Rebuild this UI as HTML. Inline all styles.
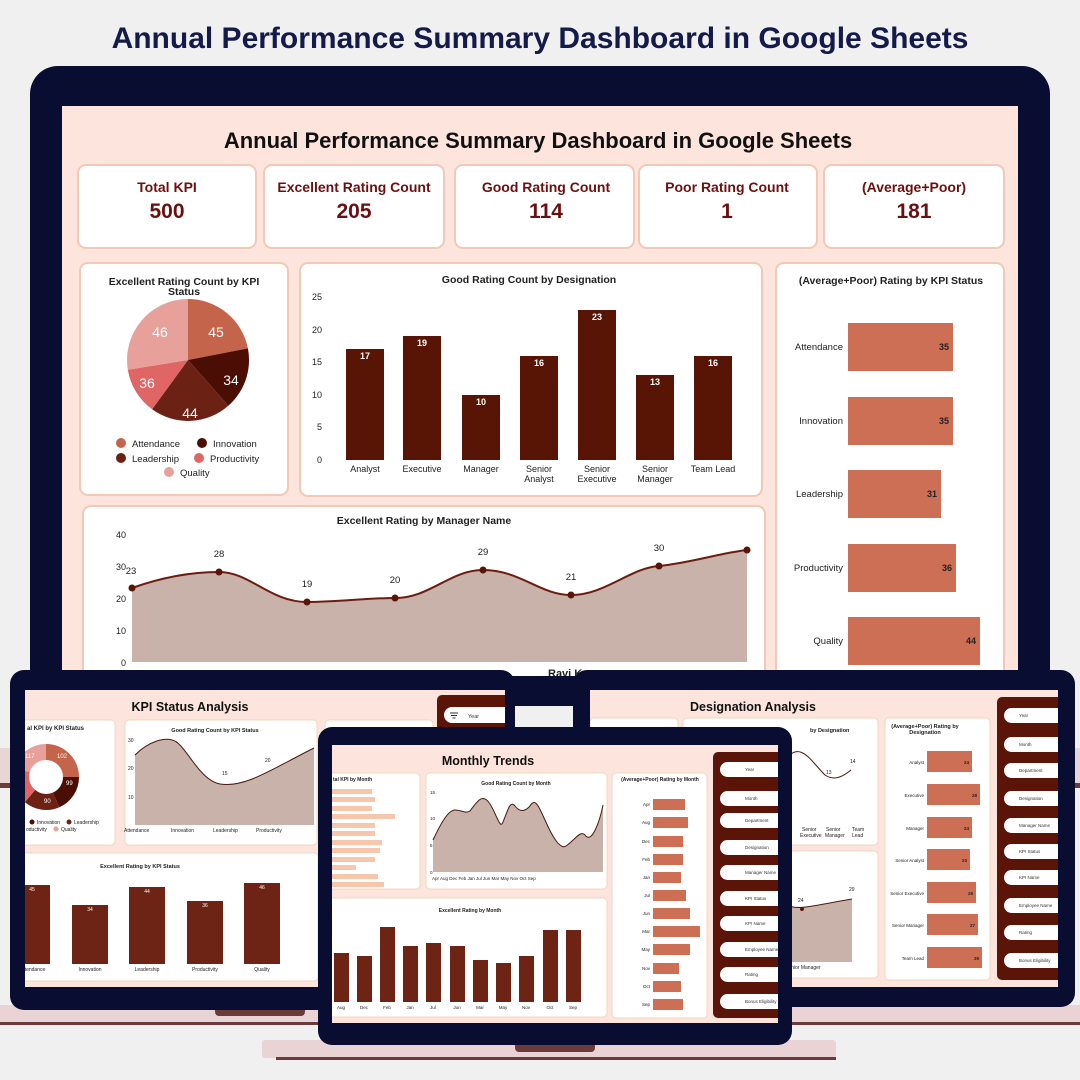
<!DOCTYPE html>
<html><head><meta charset="utf-8"><style>
html,body{margin:0;padding:0;background:#f3f2f2;}
svg{display:block;font-family:"Liberation Sans",sans-serif;}
</style></head><body>
<svg width="1080" height="1080" viewBox="0 0 1080 1080" xmlns="http://www.w3.org/2000/svg">
<defs>
<clipPath id="cl"><rect x="25" y="690" width="480" height="297"/></clipPath>
<clipPath id="cr"><rect x="590" y="690" width="468" height="297"/></clipPath>
<clipPath id="cc"><rect x="332" y="745" width="446" height="278"/></clipPath>
<clipPath id="cm"><rect x="62" y="106" width="956" height="570"/></clipPath>
</defs>
<rect width="1080" height="1080" fill="#f1f0f0"/>
<text x="540" y="48" text-anchor="middle" font-size="30" font-weight="bold" fill="#141a4a">Annual Performance Summary Dashboard in Google Sheets</text>

<rect x="0" y="748" width="1080" height="40" fill="#e8d5d5"/>
<rect x="0" y="783" width="1080" height="5" fill="#6b3a3a"/>

<rect x="30" y="66" width="1020" height="640" rx="28" fill="#0a0d32"/>
<g clip-path="url(#cm)">
<rect x="62" y="106" width="956" height="570" fill="#fde4dd"/>
<text x="538" y="148" text-anchor="middle" font-size="22" font-weight="bold" fill="#111">Annual Performance Summary Dashboard in Google Sheets</text>
<g stroke="#f1c9b6" stroke-width="2" fill="#fff">
<rect x="78" y="165" width="178" height="83" rx="8"/>
<rect x="264" y="165" width="180" height="83" rx="8"/>
<rect x="455" y="165" width="179" height="83" rx="8"/>
<rect x="639" y="165" width="178" height="83" rx="8"/>
<rect x="824" y="165" width="180" height="83" rx="8"/>
<rect x="80" y="263" width="208" height="232" rx="8"/>
<rect x="300" y="263" width="462" height="233" rx="8"/>
<rect x="776" y="263" width="228" height="420" rx="8"/>
<rect x="83" y="506" width="682" height="175" rx="8"/>
</g>
<g text-anchor="middle" fill="#6b1010" font-weight="bold">
<text x="167" y="192" font-size="14">Total KPI</text><text x="167" y="218" font-size="21">500</text>
<text x="354" y="192" font-size="14">Excellent Rating Count</text><text x="354" y="218" font-size="21">205</text>
<text x="546" y="192" font-size="14">Good Rating Count</text><text x="546" y="218" font-size="21">114</text>
<text x="727" y="192" font-size="14">Poor Rating Count</text><text x="727" y="218" font-size="21">1</text>
<text x="914" y="192" font-size="14">(Average+Poor)</text><text x="914" y="218" font-size="21">181</text>
</g>
<text x="184" y="285" text-anchor="middle" font-size="10.5" font-weight="bold" fill="#222">Excellent Rating Count by KPI</text>
<text x="184" y="295" text-anchor="middle" font-size="10.5" font-weight="bold" fill="#222">Status</text>
<g transform="translate(188 360)">
<path d="M0 0 L0 -61 A61 61 0 0 1 59.9 -11.6Z" fill="#c4644a"/>
<path d="M0 0 L59.9 -11.6 A61 61 0 0 1 40.3 45.8Z" fill="#4a0e05"/>
<path d="M0 0 L40.3 45.8 A61 61 0 0 1 -35.9 49.3Z" fill="#6b2214"/>
<path d="M0 0 L-35.9 49.3 A61 61 0 0 1 -60.2 9.7Z" fill="#e06666"/>
<path d="M0 0 L-60.2 9.7 A61 61 0 0 1 0 -61Z" fill="#e8a09a"/>
</g>
<g font-size="14" fill="#fff" text-anchor="middle">
<text x="216" y="337">45</text><text x="231" y="385">34</text><text x="190" y="418">44</text><text x="147" y="388">36</text><text x="160" y="337">46</text></g>
<g font-size="9.5" fill="#222">
<circle cx="121" cy="443" r="5" fill="#c4644a"/><text x="132" y="447">Attendance</text>
<circle cx="202" cy="443" r="5" fill="#4a0e05"/><text x="213" y="447">Innovation</text>
<circle cx="121" cy="458" r="5" fill="#6b2214"/><text x="132" y="462">Leadership</text>
<circle cx="199" cy="458" r="5" fill="#e06666"/><text x="210" y="462">Productivity</text>
<circle cx="169" cy="472" r="5" fill="#e8a09a"/><text x="180" y="476">Quality</text></g>
<text x="529" y="283" text-anchor="middle" font-size="10.5" font-weight="bold" fill="#222">Good Rating Count by Designation</text>
<g font-size="9" fill="#222" text-anchor="end">
<text x="322" y="300">25</text><text x="322" y="333">20</text><text x="322" y="365">15</text><text x="322" y="398">10</text><text x="322" y="430">5</text><text x="322" y="463">0</text></g>
<g fill="#581405">
<rect x="346" y="349" width="38" height="111"/><rect x="403" y="336" width="38" height="124"/>
<rect x="462" y="395" width="38" height="65"/><rect x="520" y="356" width="38" height="104"/>
<rect x="578" y="310" width="38" height="150"/><rect x="636" y="375" width="38" height="85"/>
<rect x="694" y="356" width="38" height="104"/></g>
<g font-size="9" fill="#fff" font-weight="bold" text-anchor="middle">
<text x="365" y="359">17</text><text x="422" y="346">19</text><text x="481" y="405">10</text><text x="539" y="366">16</text><text x="597" y="320">23</text><text x="655" y="385">13</text><text x="713" y="366">16</text></g>
<g font-size="9" fill="#222" text-anchor="middle">
<text x="365" y="472">Analyst</text><text x="422" y="472">Executive</text><text x="481" y="472">Manager</text>
<text x="539" y="472">Senior</text><text x="539" y="482">Analyst</text><text x="597" y="472">Senior</text><text x="597" y="482">Executive</text>
<text x="655" y="472">Senior</text><text x="655" y="482">Manager</text><text x="713" y="472">Team Lead</text></g>
<text x="891" y="284" text-anchor="middle" font-size="10.5" font-weight="bold" fill="#222">(Average+Poor) Rating by KPI Status</text>
<g fill="#cd6f55"><rect x="848" y="323" width="105" height="48"/><rect x="848" y="397" width="105" height="48"/>
<rect x="848" y="470" width="93" height="48"/><rect x="848" y="544" width="108" height="48"/><rect x="848" y="617" width="132" height="48"/></g>
<g font-size="9.5" fill="#222" text-anchor="end"><text x="843" y="350">Attendance</text><text x="843" y="424">Innovation</text><text x="843" y="497">Leadership</text><text x="843" y="571">Productivity</text><text x="843" y="644">Quality</text></g>
<g font-size="9" fill="#222" font-weight="bold" text-anchor="end"><text x="949" y="350">35</text><text x="949" y="424">35</text><text x="937" y="497">31</text><text x="952" y="571">36</text><text x="976" y="644">44</text></g>
<text x="424" y="524" text-anchor="middle" font-size="10.5" font-weight="bold" fill="#222">Excellent Rating by Manager Name</text>
<g font-size="9" fill="#222" text-anchor="end"><text x="126" y="538">40</text><text x="126" y="570">30</text><text x="126" y="602">20</text><text x="126" y="634">10</text><text x="126" y="666">0</text></g>
<path d="M132 588 C160 578,190 572,219 572 C250 572,270 602,307 602 C340 602,365 598,395 598 C430 598,450 570,483 570 C520 570,540 595,571 595 C605 595,630 568,659 566 C690 563,720 553,747 550 L747 662 L132 662Z" fill="#c9b2aa"/>
<path d="M132 588 C160 578,190 572,219 572 C250 572,270 602,307 602 C340 602,365 598,395 598 C430 598,450 570,483 570 C520 570,540 595,571 595 C605 595,630 568,659 566 C690 563,720 553,747 550" fill="none" stroke="#6b1d10" stroke-width="2"/>
<g fill="#5a1408"><circle cx="132" cy="588" r="3.5"/><circle cx="219" cy="572" r="3.5"/><circle cx="307" cy="602" r="3.5"/><circle cx="395" cy="598" r="3.5"/><circle cx="483" cy="570" r="3.5"/><circle cx="571" cy="595" r="3.5"/><circle cx="659" cy="566" r="3.5"/><circle cx="747" cy="550" r="3.5"/></g>
<g font-size="9.5" fill="#222" text-anchor="middle"><text x="131" y="574">23</text><text x="219" y="557">28</text><text x="307" y="587">19</text><text x="395" y="583">20</text><text x="483" y="555">29</text><text x="571" y="580">21</text><text x="659" y="551">30</text></g>
<text x="548" y="677" font-size="11" font-weight="bold" fill="#222">Ravi Ku</text>
</g>

<!-- LEFT LAPTOP -->
<rect x="0" y="1005" width="560" height="18" fill="#e9d3d4"/>
<rect x="0" y="1022" width="560" height="3" fill="#6b3a3a"/>
<rect x="215" y="1005" width="90" height="11" rx="4" fill="#6b3a3a"/>
<rect x="10" y="670" width="505" height="340" rx="14" fill="#0a0d32"/>
<g clip-path="url(#cl)">
<rect x="25" y="690" width="480" height="297" fill="#fde4dd"/>
<text x="190" y="711" text-anchor="middle" font-size="12.5" font-weight="bold" fill="#111">KPI Status Analysis</text>
<g fill="#fff" stroke="#f0d8c0"><rect x="15" y="720" width="100" height="125" rx="4"/><rect x="125" y="720" width="192" height="125" rx="4"/><rect x="325" y="720" width="108" height="125" rx="4"/><rect x="15" y="853" width="303" height="128" rx="4"/></g>
<rect x="437" y="695" width="75" height="292" rx="5" fill="#5a1408"/>
<rect x="444" y="707" width="70" height="16" rx="8" fill="#fff"/><text x="468" y="718" font-size="5.5" fill="#333">Year</text>
<g stroke="#333" stroke-width="1"><line x1="450" y1="713" x2="458" y2="713"/><line x1="451" y1="715.5" x2="457" y2="715.5"/><line x1="452.5" y1="718" x2="455.5" y2="718"/></g>
<text x="27" y="730" font-size="6" font-weight="bold" fill="#222">al KPI by KPI Status</text>
<path d="M46 752 A25 25 0 0 1 71 777" fill="none" stroke="#c4644a" stroke-width="16"/>
<path d="M71 777 A25 25 0 0 1 56 800" fill="none" stroke="#4a0e05" stroke-width="16"/>
<path d="M56 800 A25 25 0 0 1 30 796" fill="none" stroke="#6b2214" stroke-width="16"/>
<path d="M30 796 A25 25 0 0 1 22 770" fill="none" stroke="#e06666" stroke-width="16"/>
<path d="M22 770 A25 25 0 0 1 46 752" fill="none" stroke="#e8a09a" stroke-width="16"/>
<g font-size="6" fill="#fff"><text x="57" y="758">102</text><text x="66" y="785">99</text><text x="44" y="803">90</text><text x="25" y="758">117</text></g>
<g font-size="5" fill="#222"><circle cx="32" cy="822" r="2.5" fill="#4a0e05"/><text x="37" y="824">Innovation</text><circle cx="69" cy="822" r="2.5" fill="#6b2214"/><text x="74" y="824">Leadership</text><text x="26" y="831">oductivity</text><circle cx="56" cy="829" r="2.5" fill="#e8a09a"/><text x="61" y="831">Quality</text></g>
<text x="215" y="732" text-anchor="middle" font-size="5.5" font-weight="bold" fill="#222">Good Rating Count by KPI Status</text>
<path d="M135 755 C150 740,165 738,172 740 C185 742,198 780,220 784 C245 788,270 770,314 748 L314 825 L135 825Z" fill="#c9b2aa"/>
<path d="M135 755 C150 740,165 738,172 740 C185 742,198 780,220 784 C245 788,270 770,314 748" fill="none" stroke="#4a1a10" stroke-width="1"/>
<g font-size="5" fill="#222"><text x="128" y="742">30</text><text x="128" y="770">20</text><text x="128" y="799">10</text><text x="124" y="832">Attendance</text><text x="171" y="832">Innovation</text><text x="213" y="832">Leadership</text><text x="256" y="832">Productivity</text><text x="222" y="775">15</text><text x="265" y="762">20</text></g>
<text x="140" y="868" text-anchor="middle" font-size="5.5" font-weight="bold" fill="#222">Excellent Rating by KPI Status</text>
<g fill="#6e2414"><rect x="25" y="885" width="25" height="79"/><rect x="72" y="905" width="36" height="59"/><rect x="129" y="887" width="36" height="77"/><rect x="187" y="901" width="36" height="63"/><rect x="244" y="883" width="36" height="81"/></g>
<g font-size="5" fill="#fff" text-anchor="middle"><text x="32" y="891">45</text><text x="90" y="911">34</text><text x="147" y="893">44</text><text x="205" y="907">36</text><text x="262" y="889">46</text></g>
<g font-size="5" fill="#222" text-anchor="middle"><text x="35" y="971">tendance</text><text x="90" y="971">Innovation</text><text x="147" y="971">Leadership</text><text x="205" y="971">Productivity</text><text x="262" y="971">Quality</text></g>
</g>

<!-- RIGHT LAPTOP -->
<rect x="790" y="1005" width="290" height="18" fill="#e9d3d4"/>
<rect x="790" y="1022" width="290" height="3" fill="#6b3a3a"/>
<rect x="573" y="670" width="502" height="337" rx="14" fill="#0a0d32"/>
<g clip-path="url(#cr)">
<rect x="590" y="690" width="468" height="297" fill="#fde4dd"/>
<text x="753" y="711" text-anchor="middle" font-size="12.5" font-weight="bold" fill="#111">Designation Analysis</text>
<g fill="#fff" stroke="#f0d8c0"><rect x="590" y="718" width="88" height="127" rx="4"/><rect x="683" y="718" width="195" height="127" rx="4"/><rect x="683" y="851" width="195" height="127" rx="4"/><rect x="885" y="718" width="105" height="262" rx="4"/></g>
<text x="810" y="732" font-size="5.5" font-weight="bold" fill="#222">by Designation</text>
<path d="M785 760 C800 740,810 760,825 775 C835 782,845 775,851 770" fill="none" stroke="#4a1a10" stroke-width="1"/>
<g font-size="5" fill="#222"><text x="826" y="774">13</text><text x="850" y="763">14</text><text x="802" y="831">Senior</text><text x="800" y="837">Executive</text><text x="826" y="831">Senior</text><text x="825" y="837">Manager</text><text x="852" y="831">Team</text><text x="852" y="837">Lead</text></g>
<path d="M784 903 C795 912,810 906,852 899 L852 962 L784 962Z" fill="#c9b2aa"/>
<path d="M784 903 C795 912,810 906,852 899" fill="none" stroke="#4a1a10" stroke-width="1"/>
<circle cx="802" cy="909" r="2" fill="#5a1408"/>
<g font-size="5" fill="#222"><text x="798" y="902">24</text><text x="849" y="891">29</text><text x="785" y="969">Senior Manager</text></g>
<text x="925" y="728" text-anchor="middle" font-size="5.5" font-weight="bold" fill="#222">(Average+Poor) Rating by</text>
<text x="925" y="734" text-anchor="middle" font-size="5.5" font-weight="bold" fill="#222">Designation</text>
<g fill="#cd6f55"><rect x="927" y="751" width="45" height="21"/><rect x="927" y="784" width="53" height="21"/><rect x="927" y="817" width="45" height="21"/><rect x="927" y="849" width="43" height="21"/><rect x="927" y="882" width="49" height="21"/><rect x="927" y="914" width="51" height="21"/><rect x="927" y="947" width="55" height="21"/></g>
<g font-size="4.5" fill="#222" text-anchor="end"><text x="924" y="764">Analyst</text><text x="924" y="797">Executive</text><text x="924" y="830">Manager</text><text x="924" y="862">Senior Analyst</text><text x="924" y="895">Senior Executive</text><text x="924" y="927">Senior Manager</text><text x="924" y="960">Team Lead</text></g>
<g font-size="4.5" fill="#222" font-weight="bold" text-anchor="end"><text x="969" y="764">24</text><text x="977" y="797">28</text><text x="969" y="830">24</text><text x="967" y="862">23</text><text x="973" y="895">26</text><text x="975" y="927">27</text><text x="979" y="960">29</text></g>
<rect x="997" y="697" width="70" height="283" rx="5" fill="#5a1408"/>
<g fill="#fff"><rect x="1004" y="708" width="60" height="15" rx="7.5"/><rect x="1004" y="737" width="60" height="15" rx="7.5"/><rect x="1004" y="763" width="60" height="15" rx="7.5"/><rect x="1004" y="791" width="60" height="15" rx="7.5"/><rect x="1004" y="818" width="60" height="15" rx="7.5"/><rect x="1004" y="844" width="60" height="15" rx="7.5"/><rect x="1004" y="870" width="60" height="15" rx="7.5"/><rect x="1004" y="898" width="60" height="15" rx="7.5"/><rect x="1004" y="925" width="60" height="15" rx="7.5"/><rect x="1004" y="953" width="60" height="15" rx="7.5"/></g>
<g font-size="4.5" fill="#333"><text x="1019" y="717">Year</text><text x="1019" y="746">Month</text><text x="1019" y="772">Department</text><text x="1019" y="800">Designation</text><text x="1019" y="827">Manager Name</text><text x="1019" y="853">KPI Status</text><text x="1019" y="879">KPI Name</text><text x="1019" y="907">Employee Name</text><text x="1019" y="934">Rating</text><text x="1019" y="962">Bonus Eligibility</text></g>
</g>

<!-- CENTER LAPTOP -->
<rect x="262" y="1040" width="574" height="18" rx="3" fill="#e9d3d4"/>
<rect x="276" y="1057" width="560" height="3" fill="#6b3a3a"/>
<rect x="515" y="1040" width="80" height="12" rx="4" fill="#6b3a3a"/>
<rect x="318" y="727" width="474" height="318" rx="14" fill="#0a0d32"/>
<g clip-path="url(#cc)">
<rect x="332" y="745" width="446" height="278" fill="#fde4dd"/>
<text x="488" y="765" text-anchor="middle" font-size="12.5" font-weight="bold" fill="#111">Monthly Trends</text>
<g fill="#fff" stroke="#f0d8c0"><rect x="325" y="773" width="95" height="116" rx="4"/><rect x="426" y="773" width="181" height="116" rx="4"/><rect x="325" y="898" width="282" height="119" rx="4"/><rect x="612" y="773" width="95" height="245" rx="4"/></g>
<text x="333" y="781" font-size="5" font-weight="bold" fill="#222">tal KPI by Month</text>
<g fill="#f6c7ad"><rect x="332" y="789" width="40" height="5"/><rect x="332" y="797" width="43" height="5"/><rect x="332" y="806" width="40" height="5"/><rect x="332" y="814" width="63" height="5"/><rect x="332" y="823" width="43" height="5"/><rect x="332" y="831" width="43" height="5"/><rect x="332" y="840" width="50" height="5"/><rect x="332" y="848" width="48" height="5"/><rect x="332" y="857" width="43" height="5"/><rect x="332" y="865" width="24" height="5"/><rect x="332" y="874" width="46" height="5"/><rect x="332" y="882" width="52" height="5"/></g>
<text x="516" y="785" text-anchor="middle" font-size="5" font-weight="bold" fill="#222">Good Rating Count by Month</text>
<path d="M433 840 C440 825,448 810,455 810 C462 810,465 814,470 811 C478 800,483 793,490 804 C497 815,500 830,503 822 C508 810,510 800,515 806 C522 815,528 808,530 806 C536 796,540 810,545 820 C552 836,560 850,566 846 C575 840,580 830,585 835 C592 845,600 820,603 805 L603 872 L433 872Z" fill="#c9b2aa"/>
<path d="M433 840 C440 825,448 810,455 810 C462 810,465 814,470 811 C478 800,483 793,490 804 C497 815,500 830,503 822 C508 810,510 800,515 806 C522 815,528 808,530 806 C536 796,540 810,545 820 C552 836,560 850,566 846 C575 840,580 830,585 835 C592 845,600 820,603 805" fill="none" stroke="#4a1a10" stroke-width="1"/>
<g font-size="4.5" fill="#222"><text x="430" y="794">15</text><text x="430" y="820">10</text><text x="430" y="847">5</text><text x="430" y="874">0</text><text x="432" y="880">Apr Aug Dec Feb Jan Jul Jun Mar May Nov Oct Sep</text></g>
<text x="470" y="912" text-anchor="middle" font-size="5" font-weight="bold" fill="#222">Excellent Rating by Month</text>
<g fill="#6e2414"><rect x="334" y="953" width="15" height="49"/><rect x="357" y="956" width="15" height="46"/><rect x="380" y="927" width="15" height="75"/><rect x="403" y="946" width="15" height="56"/><rect x="426" y="943" width="15" height="59"/><rect x="450" y="946" width="15" height="56"/><rect x="473" y="960" width="15" height="42"/><rect x="496" y="963" width="15" height="39"/><rect x="519" y="956" width="15" height="46"/><rect x="543" y="930" width="15" height="72"/><rect x="566" y="930" width="15" height="72"/></g>
<g font-size="4.5" fill="#222" text-anchor="middle"><text x="341" y="1009">Aug</text><text x="364" y="1009">Dec</text><text x="387" y="1009">Feb</text><text x="410" y="1009">Jan</text><text x="433" y="1009">Jul</text><text x="457" y="1009">Jun</text><text x="480" y="1009">Mar</text><text x="503" y="1009">May</text><text x="526" y="1009">Nov</text><text x="550" y="1009">Oct</text><text x="573" y="1009">Sep</text></g>
<text x="660" y="781" text-anchor="middle" font-size="5" font-weight="bold" fill="#222">(Average+Poor) Rating by Month</text>
<g fill="#cd6f55"><rect x="653" y="799" width="32" height="11"/><rect x="653" y="817" width="35" height="11"/><rect x="653" y="836" width="30" height="11"/><rect x="653" y="854" width="30" height="11"/><rect x="653" y="872" width="28" height="11"/><rect x="653" y="890" width="33" height="11"/><rect x="653" y="908" width="37" height="11"/><rect x="653" y="926" width="47" height="11"/><rect x="653" y="944" width="37" height="11"/><rect x="653" y="963" width="26" height="11"/><rect x="653" y="981" width="28" height="11"/><rect x="653" y="999" width="30" height="11"/></g>
<g font-size="4.5" fill="#222" text-anchor="end"><text x="650" y="806">Apr</text><text x="650" y="824">Aug</text><text x="650" y="843">Dec</text><text x="650" y="861">Feb</text><text x="650" y="879">Jan</text><text x="650" y="897">Jul</text><text x="650" y="915">Jun</text><text x="650" y="933">Mar</text><text x="650" y="951">May</text><text x="650" y="970">Nov</text><text x="650" y="988">Oct</text><text x="650" y="1006">Sep</text></g>
<rect x="713" y="752" width="75" height="266" rx="5" fill="#5a1408"/>
<g fill="#fff"><rect x="720" y="762" width="65" height="15" rx="7.5"/><rect x="720" y="791" width="65" height="15" rx="7.5"/><rect x="720" y="813" width="65" height="15" rx="7.5"/><rect x="720" y="840" width="65" height="15" rx="7.5"/><rect x="720" y="865" width="65" height="15" rx="7.5"/><rect x="720" y="891" width="65" height="15" rx="7.5"/><rect x="720" y="916" width="65" height="15" rx="7.5"/><rect x="720" y="942" width="65" height="15" rx="7.5"/><rect x="720" y="967" width="65" height="15" rx="7.5"/><rect x="720" y="994" width="65" height="15" rx="7.5"/></g>
<g font-size="4.5" fill="#333"><text x="745" y="771">Year</text><text x="745" y="800">Month</text><text x="745" y="822">Department</text><text x="745" y="849">Designation</text><text x="745" y="874">Manager Name</text><text x="745" y="900">KPI Status</text><text x="745" y="925">KPI Name</text><text x="745" y="951">Employee Name</text><text x="745" y="976">Rating</text><text x="745" y="1003">Bonus Eligibility</text></g>
</g>
</svg>
</body></html>
